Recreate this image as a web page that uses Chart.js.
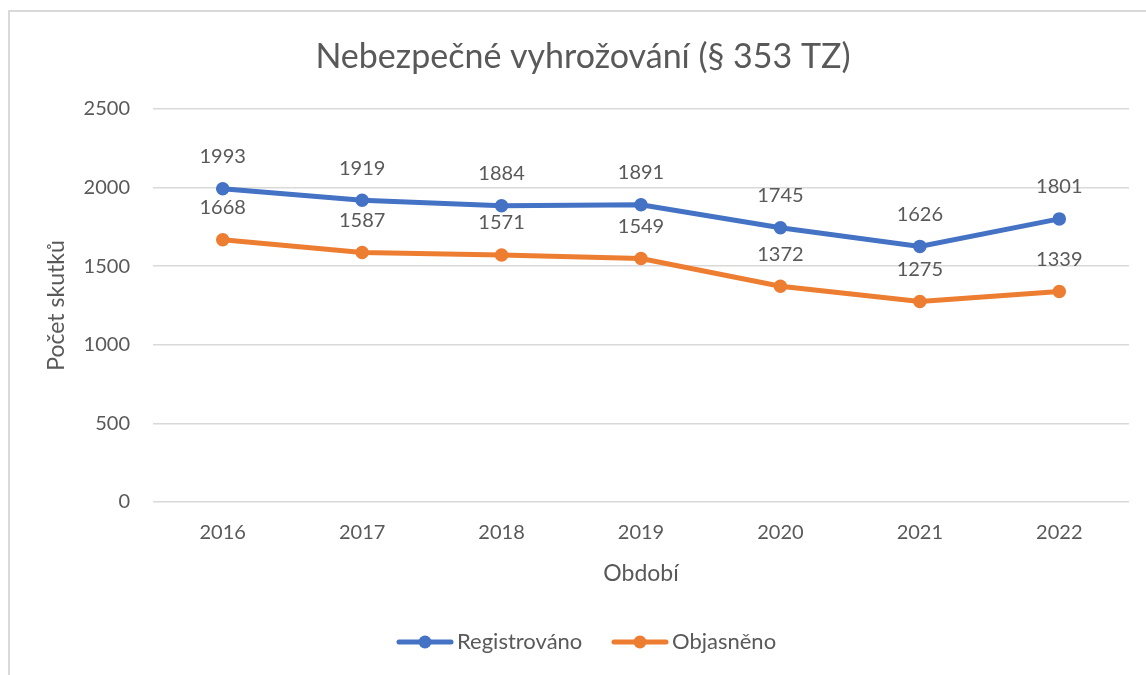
<!DOCTYPE html>
<html>
<head>
<meta charset="utf-8">
<script src="https://cdn.jsdelivr.net/npm/chart.js@4"></script>
<style>
  html, body { margin: 0; padding: 0; background: #fff; }
  #wrap { width: 1146px; height: 675px; position: relative; }
</style>
</head>
<body>
<div id="wrap"><canvas id="c" width="1146" height="675"></canvas></div>
<script>
const years = ['2016', '2017', '2018', '2019', '2020', '2021', '2022'];
const registrovano = [1993, 1919, 1884, 1891, 1745, 1626, 1801];
const objasneno = [1668, 1587, 1571, 1549, 1372, 1275, 1339];
const seriesNames = ['Registrováno', 'Objasněno'];
const chartTitle = 'Nebezpečné vyhrožování (§ 353 TZ)';
const yTitle = 'Počet skutků';
const xTitle = 'Období';

const FONT = 'Lato, "Open Sans", sans-serif';
const TEXT = '#595959';
const BLUE = '#4472C4';
const ORANGE = '#ED7D31';

const decor = {
  id: 'decor',
  beforeDraw(chart) {
    const ctx = chart.ctx;
    ctx.save();
    ctx.fillStyle = '#fff';
    ctx.fillRect(0, 0, chart.width, chart.height);
    ctx.strokeStyle = '#d9d9d9';
    ctx.lineWidth = 2;
    ctx.strokeRect(9, 11, chart.width + 20, chart.height + 20);
    ctx.restore();
  },
  afterDraw(chart) {
    const ctx = chart.ctx;
    ctx.save();
    ctx.fillStyle = TEXT;
    ctx.font = '34px ' + FONT;
    ctx.textAlign = 'center';
    ctx.textBaseline = 'middle';
    ctx.fillText(chartTitle, 583, 57);
    const items = [
      { name: seriesNames[0], color: BLUE, x: 397 },
      { name: seriesNames[1], color: ORANGE, x: 612 }
    ];
    const ly = 642;
    items.forEach(it => {
      ctx.strokeStyle = it.color;
      ctx.lineWidth = 5;
      ctx.lineCap = 'round';
      ctx.beginPath();
      ctx.moveTo(it.x + 2, ly);
      ctx.lineTo(it.x + 54, ly);
      ctx.stroke();
      ctx.fillStyle = it.color;
      ctx.beginPath();
      ctx.arc(it.x + 28, ly, 6.5, 0, Math.PI * 2);
      ctx.fill();
      ctx.fillStyle = TEXT;
      ctx.font = '22px ' + FONT;
      ctx.textAlign = 'left';
      ctx.textBaseline = 'middle';
      ctx.fillText(it.name, it.x + 60, ly);
    });
    ctx.restore();
  },
  afterDatasetsDraw(chart) {
    const ctx = chart.ctx;
    ctx.save();
    ctx.fillStyle = TEXT;
    ctx.font = '20px ' + FONT;
    ctx.textAlign = 'center';
    ctx.textBaseline = 'middle';
    chart.data.datasets.forEach((ds, i) => {
      const meta = chart.getDatasetMeta(i);
      meta.data.forEach((pt, j) => {
        ctx.fillText(String(ds.data[j]), pt.x, pt.y - 32);
      });
    });
    ctx.restore();
  }
};

new Chart(document.getElementById('c'), {
  type: 'line',
  data: {
    labels: years,
    datasets: [
      {
        label: seriesNames[0], data: registrovano,
        borderColor: BLUE, backgroundColor: BLUE,
        borderWidth: 5, pointRadius: 6, pointBorderWidth: 1.5,
        pointBackgroundColor: BLUE, pointBorderColor: BLUE,
        tension: 0, fill: false
      },
      {
        label: seriesNames[1], data: objasneno,
        borderColor: ORANGE, backgroundColor: ORANGE,
        borderWidth: 5, pointRadius: 6, pointBorderWidth: 1.5,
        pointBackgroundColor: ORANGE, pointBorderColor: ORANGE,
        tension: 0, fill: false
      }
    ]
  },
  options: {
    responsive: false,
    animation: false,
    events: [],
    layout: { padding: { left: 40, right: 17, top: 109, bottom: 83 } },
    plugins: {
      legend: { display: false },
      title: { display: false },
      tooltip: { enabled: false }
    },
    scales: {
      x: {
        offset: true,
        grid: { display: false, drawTicks: false },
        border: { display: false },
        ticks: { color: TEXT, font: { family: FONT, size: 20 }, padding: 19 },
        title: { display: true, text: xTitle, color: TEXT, font: { family: FONT, size: 23 }, padding: { top: 0, bottom: 5 } },
        afterFit(scale) { scale.height = 90; }
      },
      y: {
        min: 0, max: 2500,
        ticks: { stepSize: 500, color: TEXT, font: { family: FONT, size: 20 }, padding: 23,
                 callback: (v) => String(v) },
        grid: { color: '#d9d9d9', lineWidth: 1.5, drawTicks: false },
        border: { display: false },
        title: { display: true, text: yTitle, color: TEXT, font: { family: FONT, size: 23 }, padding: { top: 3, bottom: 0 } },
        afterFit(scale) { scale.width = 113; }
      }
    }
  },
  plugins: [decor]
});
</script>
</body>
</html>
